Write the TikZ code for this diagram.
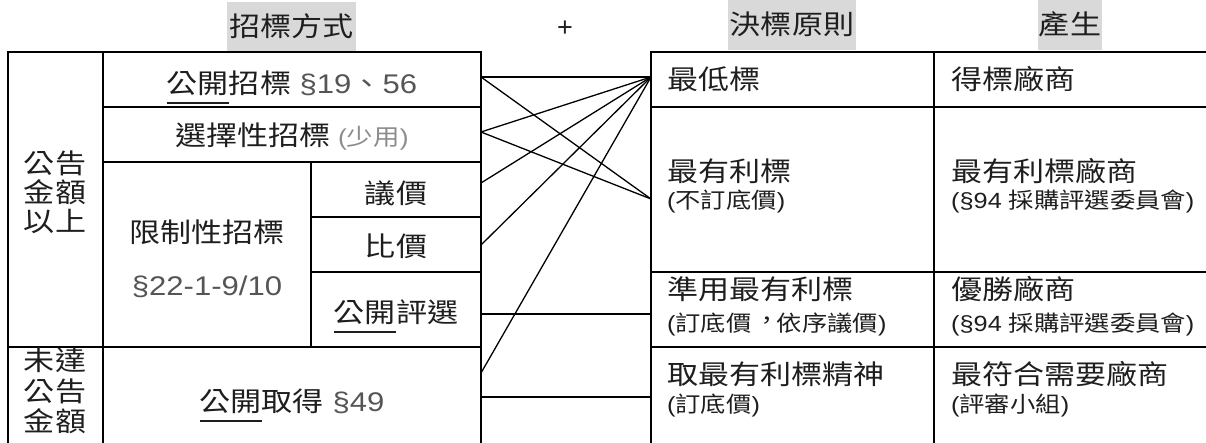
\documentclass[tikz,border=0pt]{standalone}
\usepackage{fontspec}
\usepackage{graphicx}
\setmainfont{Noto Sans CJK TC}
\newfontfamily\lat{Liberation Sans}
\definecolor{hdr}{HTML}{D9D9D9}
\definecolor{ink}{HTML}{1E1E1E}
\definecolor{gA}{HTML}{555555}
\definecolor{gB}{HTML}{8C8C8C}
\newcommand\fsmain{\fontsize{27pt}{32pt}\selectfont}
\newcommand\fssub{\fontsize{22pt}{26pt}\selectfont}
\newcommand\fstiny{\fontsize{23pt}{26pt}\selectfont}
\newcommand\sx[1]{\scalebox{1.15}[1]{#1}}
\newcommand\ulx[1]{\setbox0\hbox{#1}\rlap{\rule[-10pt]{\wd0}{2pt}}\box0}
\newcommand\tccomma{\hspace{0.12em}\raisebox{0.1em}{，}\hspace{-0.12em}}
\begin{document}
\begin{tikzpicture}[x=1pt,y=-1pt,
  tbl/.style={line width=2.6pt, line cap=rect},
  conn/.style={line width=1.3pt},
  mt/.style={inner sep=0pt, font=\fsmain, text height=21.6pt, text depth=2pt, text=ink},
  st/.style={inner sep=0pt, font=\fssub, text height=17.6pt, text depth=1.6pt, text=ink},
  hb/.style={mt, fill=hdr, minimum height=50pt}]
\useasboundingbox (0,0) rectangle (1206,443);

% headers
\node[hb, minimum width=129pt] (h1) at (291.5,27) {\sx{招標方式}};
\node[mt] (plus) at (565,27) {\lat +};
\node[hb, minimum width=128pt] (h2) at (792,25) {\sx{決標原則}};
\node[hb, minimum width=64pt] (h3) at (1070,25) {\sx{產生}};

% left table
\draw[tbl] (8,443) -- (8,52) -- (481,52) -- (481,443);
\draw[tbl] (103,52) -- (103,443);
\draw[tbl] (103,107) -- (481,107);
\draw[tbl] (103,162) -- (481,162);
\draw[tbl] (311,162) -- (311,347);
\draw[tbl] (311,217) -- (481,217);
\draw[tbl] (311,272) -- (481,272);
\draw[tbl] (8,347) -- (481,347);

% right table
\draw[tbl] (651,443) -- (651,52) -- (1210,52);
\draw[tbl] (934,52) -- (934,443);
\draw[tbl] (651,107) -- (1210,107);
\draw[tbl] (651,272) -- (1210,272);
\draw[tbl] (651,347) -- (1210,347);

% left texts
\node[mt] (l1a) at (55,164) {\sx{公告}};
\node[mt] (l1b) at (55,193) {\sx{金額}};
\node[mt] (l1c) at (55,222) {\sx{以上}};
\node[mt] (l2a) at (55,361) {\sx{未達}};
\node[mt] (l2b) at (55,392) {\sx{公告}};
\node[mt] (l2c) at (55,422) {\sx{金額}};

\node[mt] (t1) at (292,84) {\sx{\ulx{公開}招標{\color{gA}\lat\ §19}{\color{gA}、}{\color{gA}\lat 56}}};
\node[mt] (t2) at (292,136) {\sx{選擇性招標{\fstiny\color{gB}\lat\ (}{\fstiny\color{gB}少用}{\fstiny\color{gB}\lat )}}};
\node[mt] (t3) at (207,233) {\sx{限制性招標}};
\node[mt, text=gA] (t3b) at (207,286) {\sx{\lat §22-1-9/10}};
\node[mt] (t4) at (396,194) {\sx{議價}};
\node[mt] (t5) at (396,247) {\sx{比價}};
\node[mt] (t6) at (396,313) {\sx{\ulx{公開}評選}};
\node[mt] (t7) at (292,402) {\sx{\ulx{公開}取得{\color{gA}\lat\ §49}}};

% right texts
\node[mt, anchor=west] (r1) at (667,80) {\sx{最低標}};
\node[mt, anchor=west] (r2) at (667,172) {\sx{最有利標}};
\node[st, anchor=west] (r2b) at (667,201) {\sx{{\lat (}不訂底價{\lat )}}};
\node[mt, anchor=west] (r3) at (667,290) {\sx{準用最有利標}};
\node[st, anchor=west] (r3b) at (667,323) {\sx{{\lat (}訂底價\tccomma 依序議價{\lat )}}};
\node[mt, anchor=west] (r4) at (667,375) {\sx{取最有利標精神}};
\node[st, anchor=west] (r4b) at (667,404) {\sx{{\lat (}訂底價{\lat )}}};

\node[mt, anchor=west] (p1) at (951,80) {\sx{得標廠商}};
\node[mt, anchor=west] (p2) at (951,172) {\sx{最有利標廠商}};
\node[st, anchor=west] (p2b) at (951,201) {\sx{{\lat (§94 }採購評選委員會{\lat )}}};
\node[mt, anchor=west] (p3) at (951,290) {\sx{優勝廠商}};
\node[st, anchor=west] (p3b) at (951,323) {\sx{{\lat (§94 }採購評選委員會{\lat )}}};
\node[mt, anchor=west] (p4) at (951,375) {\sx{最符合需要廠商}};
\node[st, anchor=west] (p4b) at (951,404) {\sx{{\lat (}評審小組{\lat )}}};

% connectors
\coordinate (a1) at (481,77);
\coordinate (a2) at (481,132);
\coordinate (a3) at (481,183);
\coordinate (a4) at (481,245);
\coordinate (a5) at (481,314);
\coordinate (a6) at (481,373);
\coordinate (a7) at (481,397);
\coordinate (b1) at (651,77);
\coordinate (b2) at (651,199);
\coordinate (b3) at (651,314);
\coordinate (b4) at (651,397);
\draw[conn] (a1) -- (b1);
\draw[conn] (a1) -- (b2);
\draw[conn] (a2) -- (b1);
\draw[conn] (a2) -- (b2);
\draw[conn] (a3) -- (b1);
\draw[conn] (a4) -- (b1);
\draw[conn] (a6) -- (b1);
\draw[conn] (a5) -- (b3);
\draw[conn] (a7) -- (b4);
\end{tikzpicture}
\end{document}
